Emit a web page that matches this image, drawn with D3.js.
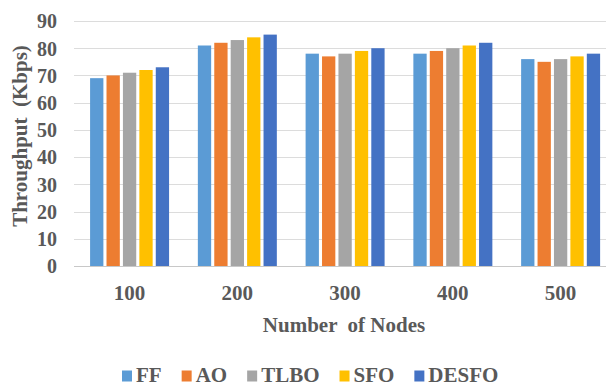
<!DOCTYPE html>
<html><head><meta charset="utf-8">
<script src="https://cdn.jsdelivr.net/npm/d3@7"></script>
<style>body{margin:0;background:#fff}svg{display:block}
svg text{font-family:"Liberation Serif","Times New Roman",Tinos,serif !important;font-weight:bold;}</style>
</head><body>
<script>
const categories = ["100", "200", "300", "400", "500"];
const seriesNames = ["FF", "AO", "TLBO", "SFO", "DESFO"];
const FF    = [69, 81, 78, 78, 76];
const AO    = [70, 82, 77, 79, 75];
const TLBO  = [71, 83, 78, 80, 76];
const SFO   = [72, 84, 79, 81, 77];
const DESFO = [73, 85, 80, 82, 78];
const yTicks = [0, 10, 20, 30, 40, 50, 60, 70, 80, 90];
const colors = ["#5B9BD5", "#ED7D31", "#A5A5A5", "#FFC000", "#4472C4"];
const seriesValues = [FF, AO, TLBO, SFO, DESFO];

const W = 606, H = 387;
const svg = d3.select("body").append("svg").attr("width", W).attr("height", H);
const textCol = "#595959";

const x0 = d3.scaleBand().domain(categories).range([75.7, 614.5]).paddingInner(0.267).paddingOuter(0.1335);
const x1 = d3.scaleBand().domain(seriesNames).range([0, x0.bandwidth()]).paddingInner(0.19);
const y = d3.scaleLinear().domain([0, 90]).range([266, 21]);

// gridlines
svg.append("g").selectAll("line").data(yTicks).join("line")
  .attr("x1", 74).attr("x2", W)
  .attr("y1", d => Math.round(y(d)) + 0.5).attr("y2", d => Math.round(y(d)) + 0.5)
  .attr("stroke", d => d === 0 ? "#c8c8c8" : "#dcdcdc").attr("stroke-width", 1);

// bars
const g = svg.append("g");
categories.forEach((c, ci) => {
  seriesNames.forEach((s, si) => {
    const v = seriesValues[si][ci];
    g.append("rect")
      .attr("x", x0(c) + x1(s))
      .attr("y", y(v))
      .attr("width", x1.bandwidth())
      .attr("height", y(0) - y(v))
      .attr("fill", colors[si]);
  });
});

// y axis labels
const yAxis = d3.axisLeft(y).tickValues(yTicks).tickSize(0).tickPadding(0);
const ya = svg.append("g").attr("transform", "translate(57,0)").call(yAxis);
ya.select(".domain").remove();
ya.selectAll("text").attr("font-size", 20).attr("fill", textCol).attr("dy", "0.34em");

// x axis labels
const xAxis = d3.axisBottom(x0).tickSize(0).tickPadding(0);
const xa = svg.append("g").attr("transform", "translate(0,285)").call(xAxis);
xa.select(".domain").remove();
xa.selectAll("text").attr("font-size", 21).attr("fill", textCol);

// axis titles
svg.append("text").attr("x", 344).attr("y", 332).attr("text-anchor", "middle")
  .attr("font-size", 21)
  .attr("fill", textCol).style("white-space", "pre")
  .text("Number  of Nodes");
svg.append("text").attr("transform", "translate(27,136) rotate(-90)").attr("text-anchor", "middle")
  .attr("font-size", 21)
  .attr("fill", textCol).style("white-space", "pre")
  .text("Throughput  (Kbps)");

// legend
const leg = svg.append("g");
let lx = 122;
seriesNames.forEach((s, i) => {
  const it = leg.append("g").attr("transform", `translate(${lx},0)`);
  it.append("rect").attr("x", 0).attr("y", 370.5).attr("width", 10).attr("height", 11).attr("fill", colors[i]);
  const t = it.append("text").attr("x", 14).attr("y", 382)
    .attr("font-size", 21)
    .attr("fill", textCol).text(s);
  lx += 14 + t.node().getComputedTextLength() + 20;
});
</script>
</body></html>
